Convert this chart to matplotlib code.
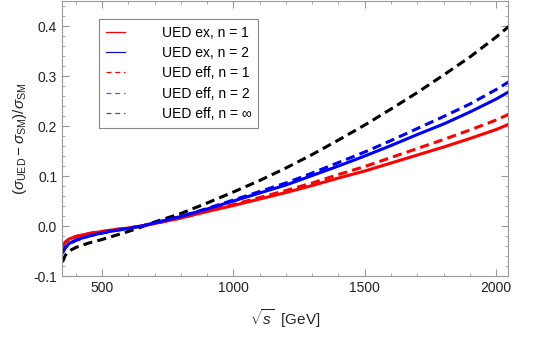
import matplotlib
matplotlib.use('Agg')
import matplotlib.pyplot as plt
from matplotlib.lines import Line2D
from matplotlib.ticker import MultipleLocator

plt.rcParams['font.family'] = ['Liberation Sans', 'DejaVu Sans']
plt.rcParams['mathtext.fontset'] = 'custom'
plt.rcParams['mathtext.rm'] = 'Liberation Sans'
plt.rcParams['mathtext.it'] = 'Liberation Sans:italic'
plt.rcParams['axes.unicode_minus'] = False

# sqrt(s) in GeV
sqrt_s = [350, 360, 375, 400, 450, 500, 550, 600, 650, 700, 800, 900, 1000,
          1100, 1200, 1300, 1400, 1500, 1600, 1700, 1800, 1900, 2000, 2050]

ex_n1 = [-0.040, -0.032, -0.026, -0.021, -0.015, -0.011, -0.007, -0.004, 0.000, 0.005,
         0.016, 0.029, 0.041, 0.054, 0.067, 0.081, 0.096, 0.110, 0.126, 0.142,
         0.158, 0.175, 0.193, 0.204]
ex_n2 = [-0.053, -0.043, -0.035, -0.028, -0.020, -0.014, -0.009, -0.005, 0.000, 0.006,
         0.019, 0.034, 0.050, 0.066, 0.082, 0.101, 0.120, 0.140, 0.161, 0.183,
         0.204, 0.228, 0.254, 0.269]
eff_n1 = [-0.041, -0.033, -0.027, -0.021, -0.015, -0.011, -0.007, -0.004, 0.000, 0.005,
          0.016, 0.030, 0.043, 0.057, 0.071, 0.086, 0.103, 0.119, 0.137, 0.155,
          0.173, 0.192, 0.212, 0.224]
eff_n2 = [-0.054, -0.044, -0.036, -0.029, -0.020, -0.014, -0.009, -0.005, 0.000, 0.006,
          0.019, 0.035, 0.052, 0.069, 0.086, 0.106, 0.127, 0.148, 0.171, 0.195,
          0.219, 0.244, 0.273, 0.289]
eff_inf = [-0.072, -0.059, -0.050, -0.043, -0.034, -0.027, -0.019, -0.011, -0.002, 0.008,
           0.025, 0.046, 0.068, 0.091, 0.116, 0.143, 0.172, 0.202, 0.234, 0.267,
           0.302, 0.338, 0.378, 0.400]

labels = ['UED ex, n = 1', 'UED ex, n = 2', 'UED eff, n = 1', 'UED eff, n = 2',
          'UED eff, n = \u221e']

fig = plt.figure(figsize=(5.45, 3.39), dpi=100)
ax = fig.add_axes([0.1138, 0.1858, 0.8183, 0.8112])

lw = 2.2
dash = (0, (3.0, 1.7))
ax.plot(sqrt_s, eff_inf, color='black', lw=lw, ls=dash)
ax.plot(sqrt_s, eff_n1, color='red', lw=lw, ls=dash)
ax.plot(sqrt_s, eff_n2, color='blue', lw=lw, ls=dash)
ax.plot(sqrt_s, ex_n1, color='red', lw=lw)
ax.plot(sqrt_s, ex_n2, color='blue', lw=lw)

ax.set_xlim(348, 2045)
ax.set_ylim(-0.1, 0.45)
ax.xaxis.set_major_locator(MultipleLocator(500))
ax.xaxis.set_minor_locator(MultipleLocator(100))
ax.yaxis.set_major_locator(MultipleLocator(0.1))
ax.yaxis.set_minor_locator(MultipleLocator(0.02))
ax.tick_params(which='both', direction='in', top=True, right=True, color='#999999',
               labelsize=10, labelcolor='#222222')
ax.tick_params(which='major', length=5)
ax.tick_params(which='minor', length=2.5)
for sp in ax.spines.values():
    sp.set_color('#999999')

ax.set_xlabel(r'$\sqrt{s}$  [GeV]', fontsize=11, color='#222222', labelpad=9)
ax.set_ylabel(r'$(\sigma_{\mathrm{UED}} - \sigma_{\mathrm{SM}})/\sigma_{\mathrm{SM}}$',
              fontsize=11, color='#222222', labelpad=3)

handles = [Line2D([], [], color='red', lw=0.9),
           Line2D([], [], color='#1010c0', lw=0.9),
           Line2D([], [], color='red', lw=0.9, ls=(0, (4, 3))),
           Line2D([], [], color='#5555ff', lw=0.9, ls=(0, (4, 3))),
           Line2D([], [], color='#555555', lw=0.9, ls=(0, (4, 3)))]
leg = ax.legend(handles, labels, loc='upper left', bbox_to_anchor=(0.083, 0.935),
                borderaxespad=0, fontsize=10, handlelength=1.4, handletextpad=2.6,
                labelspacing=0.45, borderpad=0.5, fancybox=False, framealpha=1,
                edgecolor='#888888')
leg.get_frame().set_linewidth(0.8)

fig.savefig('out.png', dpi=100)
